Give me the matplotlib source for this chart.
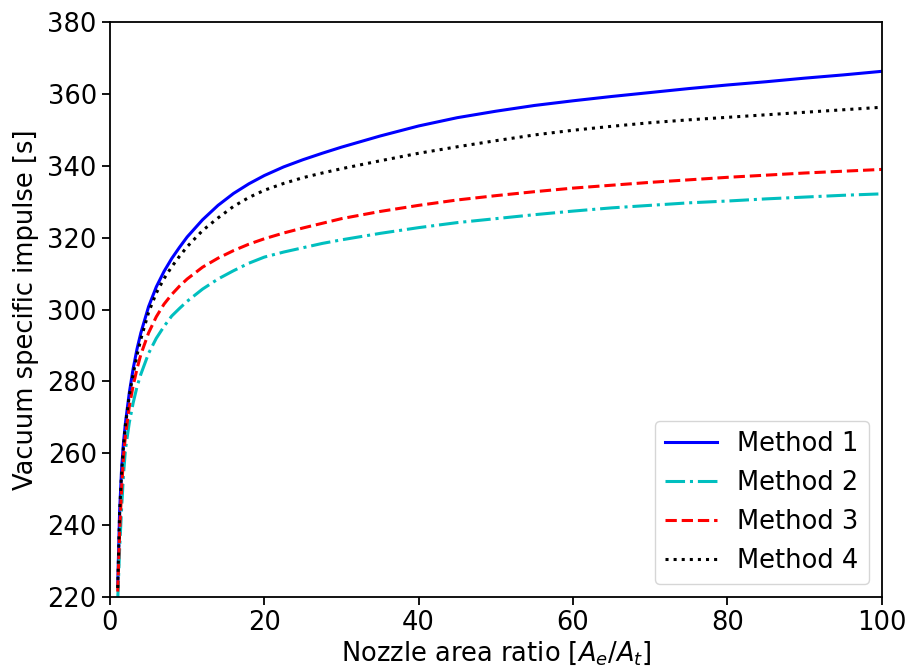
import matplotlib
matplotlib.use("Agg")
import matplotlib.pyplot as plt

# Nozzle area ratio samples
area_ratio = [1, 1.25, 1.5, 1.75, 2, 2.5, 3, 3.5, 4, 5, 6, 7, 8, 9, 10, 12,
              14, 16, 18, 20, 22.5, 25, 27.5, 30, 35, 40, 45, 50, 55, 60, 65,
              70, 75, 80, 85, 90, 95, 100]

# Vacuum specific impulse [s] for each method
isp_method1 = [223, 244, 255.5, 263, 268.4, 276.8, 283.5, 289, 293.5, 300.8,
               306.3, 310.6, 314.2, 317.3, 320.2, 325, 329, 332.3, 335, 337.3,
               339.7, 341.7, 343.5, 345.2, 348.3, 351.1, 353.4, 355.2, 356.8,
               358.1, 359.3, 360.4, 361.5, 362.5, 363.4, 364.4, 365.3, 366.3]
isp_method2 = [219, 233.5, 244.5, 254, 261, 268.5, 274, 278.5, 282, 287.8,
               292, 295.3, 298.2, 300.3, 302.3, 305.7, 308.5, 310.8, 312.9,
               314.6, 316, 317.2, 318.4, 319.4, 321.2, 322.8, 324.2, 325.3,
               326.4, 327.4, 328.3, 329, 329.7, 330.2, 330.8, 331.3, 331.8,
               332.2]
isp_method3 = [221.5, 238, 250, 259, 265, 273, 278.8, 283.5, 287.5, 293.5,
               298, 301.5, 304.2, 306.5, 308.5, 311.8, 314.3, 316.4, 318.2,
               319.7, 321.3, 322.7, 324, 325.3, 327.3, 329, 330.5, 331.7,
               332.8, 333.8, 334.6, 335.4, 336.1, 336.8, 337.4, 338, 338.5,
               339]
isp_method4 = [222.5, 243.5, 254.5, 262, 267.8, 276, 282, 287.3, 291.8, 299.2,
               304.6, 308.6, 311.9, 314.8, 317.5, 322, 325.5, 328.7, 331.2,
               333.2, 335.1, 336.7, 338, 339.2, 341.4, 343.5, 345.3, 347,
               348.6, 349.9, 351, 352, 352.8, 353.5, 354.2, 354.9, 355.6,
               356.3]

labels = ["Method 1", "Method 2", "Method 3", "Method 4"]

plt.rcParams["font.size"] = 18.5
plt.rcParams["axes.linewidth"] = 1.3
for axis in ("xtick", "ytick"):
    plt.rcParams[f"{axis}.major.size"] = 6
    plt.rcParams[f"{axis}.major.width"] = 1.3

fig = plt.figure(figsize=(9.09, 6.70), dpi=100)
ax = fig.add_axes([0.121, 0.109, 0.849, 0.858])

ax.plot(area_ratio, isp_method1, "b-", lw=2.2, label=labels[0])
ax.plot(area_ratio, isp_method2, "c-.", lw=2.2, label=labels[1])
ax.plot(area_ratio, isp_method3, "r--", lw=2.2, label=labels[2])
ax.plot(area_ratio, isp_method4, "k:", lw=2.2, label=labels[3])

ax.set_xlim(0, 100)
ax.set_ylim(220, 380)
ax.set_xlabel("Nozzle area ratio [$A_e/A_t$]", labelpad=2)
ax.set_ylabel("Vacuum specific impulse [s]", labelpad=6)
ax.legend(loc="lower right")

fig.savefig("out.png", dpi=100)
